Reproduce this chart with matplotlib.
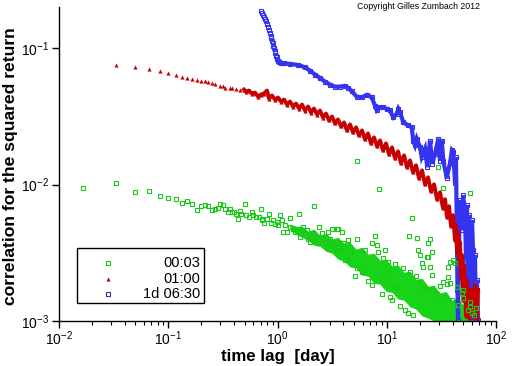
import matplotlib
matplotlib.use('Agg')
import matplotlib.pyplot as plt
from matplotlib.patches import Rectangle
from matplotlib.ticker import LogLocator, NullLocator

plt.rcParams['font.family'] = ['Liberation Sans', 'DejaVu Sans']
plt.rcParams['mathtext.fontset'] = 'custom'
plt.rcParams['mathtext.rm'] = 'Liberation Sans'
plt.rcParams['mathtext.it'] = 'Liberation Sans:italic'
plt.rcParams['mathtext.bf'] = 'Liberation Sans:bold'

# ---- data (lag in days, correlation of squared returns) ----
series_names = ['00:03', '01:00', '1d 06:30']

# 00:03 - individual points
green_lag = [0.0167, 0.0333, 0.05, 0.0667, 0.0833, 0.1, 0.1167, 0.1333, 0.15, 0.1667, 0.1833, 0.2, 0.2167, 0.2333,
             0.25, 0.2667, 0.2833, 0.3, 0.3167, 0.3333, 0.35, 0.3667, 0.3833, 0.4, 0.4167, 0.4333, 0.45, 0.4667,
             0.5, 0.5167, 0.55, 0.5833, 0.6, 0.6333, 0.6833, 0.7167, 0.706, 0.718,
             0.752, 0.797, 0.841, 0.867, 0.904, 0.949, 0.983, 1.017, 1.054, 1.092, 1.130, 1.171, 1.230, 1.301,
             1.301, 1.379, 1.446, 1.583, 1.607, 1.666, 1.722, 1.785, 1.850, 1.914, 1.984, 2.056, 2.126, 2.171,
             2.204, 2.285, 2.363, 2.413, 2.538, 2.625, 2.721, 2.821, 2.917, 3.024, 3.135, 3.241, 3.483, 3.483,
             3.600, 3.733, 3.869, 4.002, 4.148, 4.301, 4.447, 4.609,
             3.135, 3.600, 4.148, 5.31, 5.31, 5.376, 7.282, 7.807, 8.09, 8.55, 8.99, 8.99, 9.64, 10.71, 12.34,
             15.74, 16.08, 16.92, 19.11, 19.44, 20.15, 20.9, 21.6, 23.7, 24.0, 24.88, 24.88, 25.79, 25.79,
             29.64, 32.5, 32.9, 35.4, 36.6, 36.6, 37.9, 40.65, 42.15, 43.7, 48.5, 57.8,
             5.12, 5.936, 6.323, 6.736, 7.33, 8.32, 9.241, 10.27, 11.17, 11.90, 13.22, 14.09, 14.70, 16.32,
             17.39, 18.52, 20.15, 22.39, 26.5, 28.84, 30.72, 33.4, 39.6, 44.89, 49.87, 55.4, 57.8, 62.9, 65.6,
             23.2, 37.9, 50.2, 57.8, 59.9]
green_corr = [0.0095, 0.0102, 0.00887, 0.0090, 0.0083, 0.0080, 0.00787, 0.00738, 0.00762, 0.00724, 0.00656,
              0.00702, 0.00713, 0.00702,
              0.00648, 0.00667, 0.00678, 0.00725, 0.00705, 0.00667, 0.00630, 0.00667, 0.00624, 0.00630, 0.00613,
              0.00555, 0.00637, 0.00613, 0.00725, 0.00596, 0.00579, 0.00630, 0.00603, 0.00579, 0.00579, 0.00555,
              0.00667, 0.00548,
              0.00523, 0.00555, 0.00613, 0.00523, 0.00548, 0.00518, 0.00533, 0.00503, 0.00603, 0.00548, 0.00450,
              0.00503, 0.00450, 0.00573, 0.00489, 0.00476, 0.00450, 0.00613, 0.00413, 0.00463, 0.00489, 0.00438,
              0.00463, 0.00402, 0.00380, 0.00425, 0.00438, 0.00693, 0.00391, 0.00413, 0.00370, 0.00489, 0.00438,
              0.00402, 0.00370, 0.00349, 0.00450, 0.00402, 0.00359, 0.00330, 0.00476, 0.00380, 0.00349, 0.00321,
              0.00450, 0.00370, 0.00340, 0.00287, 0.00391, 0.00321,
              0.00476, 0.00469, 0.00279, 0.00396, 0.00243, 0.0150, 0.00370, 0.00418, 0.00363, 0.00933, 0.00199,
              0.00157, 0.00330, 0.00151, 0.00178, 0.00114, 0.00421, 0.00564, 0.00408, 0.00330, 0.00304, 0.00264,
              0.00250, 0.00292, 0.00376, 0.00396, 0.00250, 0.00321, 0.00217, 0.01336, 0.00947, 0.00193, 0.00188,
              0.00250, 0.00211, 0.00270, 0.00279, 0.00264, 0.00178, 0.00160, 0.0087,
              0.00213, 0.00228, 0.00330, 0.00196, 0.00183, 0.00319, 0.00289, 0.00270, 0.00142, 0.00261, 0.00129,
              0.00244, 0.00120, 0.00228, 0.00111, 0.00213, 0.00189, 0.00174, 0.00168, 0.00158, 0.00180, 0.00149,
              0.00142, 0.00131, 0.00147, 0.00120, 0.00137, 0.00111, 0.00124,
              0.00295, 0.00189, 0.00168, 0.00127, 0.00114]

# 00:03 - the solid core of the cloud (upper / lower edge)
green_core_lag = [1.301, 1.477, 1.676, 1.902, 2.158, 2.449, 2.779, 3.154, 3.579, 4.062, 4.609, 5.231, 5.936,
                  6.736, 7.644, 8.675, 9.843, 11.17, 12.68, 14.39, 16.32, 18.52, 21.02, 23.86, 27.07, 30.72,
                  34.87, 39.5, 44.89, 50.94, 57.8, 65.6]
green_core_hi = [0.00512, 0.00495, 0.00495, 0.00455, 0.00471, 0.00425, 0.00440, 0.00398, 0.00411, 0.00372,
                 0.00378, 0.00336, 0.00347, 0.00309, 0.00314, 0.00279, 0.00284, 0.00253, 0.00257, 0.00228,
                 0.00232, 0.00202, 0.00206, 0.00180, 0.00183, 0.00160, 0.00165, 0.00142, 0.00147, 0.00129,
                 0.00133, 0.00115]
green_core_lo = [0.00471, 0.00432, 0.00411, 0.00391, 0.00359, 0.00353, 0.00324, 0.00314, 0.00284, 0.00274,
                 0.00249, 0.00244, 0.00217, 0.00213, 0.00189, 0.00186, 0.00165, 0.00162, 0.00145, 0.00142,
                 0.00127, 0.00122, 0.00109, 0.00105, 0.001, 0.001, 0.001, 0.001, 0.001, 0.001, 0.001, 0.001]

# 01:00
red_lag = [0.0333, 0.05, 0.0667, 0.0833, 0.1, 0.1167, 0.1333, 0.15, 0.1667, 0.1833, 0.2, 0.2167, 0.2333, 0.25,
           0.2667, 0.3, 0.3167, 0.3333, 0.3667, 0.3833, 0.4167, 0.45,
           0.4935, 0.5148, 0.5483, 0.5843, 0.6223, 0.6631, 0.7063, 0.7522, 0.8015, 0.8360, 0.8907, 0.9486,
           1.011, 1.076, 1.147, 1.222, 1.301, 1.387, 1.477, 1.573, 1.676, 1.785, 1.902, 2.026, 2.158, 2.299,
           2.449, 2.609, 2.779, 2.961, 3.154, 3.360, 3.579, 3.813, 4.062, 4.327, 4.609, 4.910, 5.231, 5.572,
           5.936, 6.323, 6.736, 7.176, 7.644, 8.143, 8.675, 9.241, 9.843, 10.49, 11.17, 11.90, 12.68, 13.50,
           14.39, 15.32, 16.32, 17.39, 18.52, 19.73, 21.02, 22.39, 23.86, 25.41, 27.07, 28.84, 30.72, 32.73,
           34.14, 35.61, 37.14, 38.74, 40.41, 42.15, 43.05, 43.95, 44.89, 45.85, 46.83, 47.82, 48.84, 49.87,
           50.94, 53.13, 54.27, 56.61, 59.05, 61.59, 64.24, 67.01, 68.44]
red_corr = [0.0752, 0.0728, 0.0698, 0.0680, 0.0658, 0.0636, 0.0615, 0.0604, 0.0594, 0.0585, 0.0578, 0.0571,
            0.0561, 0.0556, 0.0543, 0.0528, 0.0528, 0.0511, 0.0511, 0.0511, 0.0505, 0.0494,
            0.04965, 0.04802, 0.04883, 0.04642, 0.04721, 0.04412, 0.04565, 0.04642, 0.04883, 0.04267, 0.04487,
            0.04196, 0.04339, 0.04057, 0.04196, 0.03857, 0.04057, 0.03730, 0.03923, 0.03606, 0.03857, 0.03487,
            0.03730, 0.03372, 0.03606, 0.03260, 0.03487, 0.03099, 0.03315, 0.02947, 0.03152, 0.02802, 0.02997,
            0.02664, 0.02849, 0.02490, 0.02755, 0.02407, 0.02619, 0.02289, 0.02490, 0.02140, 0.02367, 0.02000,
            0.02213, 0.01902, 0.02104, 0.01778, 0.02000, 0.01663, 0.01870, 0.01554, 0.01748, 0.01429, 0.01635,
            0.01336, 0.01503, 0.01228, 0.01382, 0.01110, 0.01270, 0.01003, 0.01129, 0.00892, 0.01003, 0.00780,
            0.00877, 0.00670, 0.00780, 0.00576, 0.00693, 0.00495, 0.00596, 0.00391, 0.00512, 0.00319, 0.00447,
            0.00270, 0.00378, 0.00206, 0.00304, 0.00142, 0.00257, 0.00109, 0.00199, 0.00105, 0.00169, 0.00109,
            0.00183, 0.00105, 0.00169]

# 1d 06:30
blue_lag = [0.711, 0.726, 0.741, 0.757, 0.773, 0.790, 0.807, 0.824, 0.841, 0.854, 0.866, 0.878, 0.891, 0.904,
            0.916, 0.929, 0.943, 0.955, 0.969, 0.984, 0.996, 1.017, 1.038, 1.069, 1.099, 1.147,
            1.302, 1.550, 1.786, 1.983, 2.204, 2.449, 2.721, 3.024, 3.360, 3.733, 4.148, 4.446, 4.777, 5.306,
            5.896, 6.551, 7.279, 7.802, 8.088, 8.669, 9.290, 9.96, 10.7, 11.47, 12.33, 12.76, 13.22, 14.18,
            15.75, 16.90, 17.49, 18.14, 18.80, 20.15, 20.89, 22.39, 23.50, 24.88, 26.12, 27.66, 29.65, 30.7,
            31.84, 32.95, 35.4, 37.9, 39.5, 40.6, 42.2, 43.0, 43.9, 44.4, 44.9, 45.8, 46.8, 48.8, 49.9, 52.0,
            53.1, 54.3, 55.4, 56.6, 57.8, 59.1, 60.3, 61.6, 62.9, 64.2, 65.6, 67.0, 68.4]
blue_corr = [0.187, 0.1815, 0.1755, 0.1688, 0.163, 0.1567, 0.150, 0.1433, 0.1356, 0.1296, 0.1233, 0.1185,
             0.1132, 0.1082, 0.1042, 0.0995, 0.0957, 0.0915, 0.0880, 0.0855, 0.0832, 0.0809, 0.0796, 0.0782,
             0.0778, 0.0773,
             0.0765, 0.0752, 0.0722, 0.0684, 0.0639, 0.0604, 0.0568, 0.0540, 0.0522, 0.0522, 0.0528, 0.0511,
             0.0482, 0.0441, 0.0436, 0.0454, 0.0436, 0.0379, 0.0349, 0.0369, 0.0369, 0.0359, 0.0349, 0.0311,
             0.0330, 0.0359, 0.0339, 0.0286, 0.0271, 0.0263, 0.0210, 0.0194, 0.0217, 0.0188, 0.0159, 0.0183,
             0.0134, 0.0210, 0.0142, 0.0168, 0.0217, 0.0150, 0.0210, 0.0150, 0.0111, 0.0143, 0.0178, 0.0173,
             0.0102, 0.0158, 0.00391, 0.00168, 0.00102, 0.00330, 0.00767, 0.00463, 0.00834, 0.00648, 0.00279,
             0.00705, 0.00142, 0.00596, 0.00425, 0.00102, 0.00548, 0.00330, 0.00120, 0.00304, 0.00102, 0.00199,
             0.00102]

green_col = '#19c819'
red_col = '#c80000'
blue_col = '#3434f0'

fig = plt.figure(figsize=(5.12, 3.66), dpi=100)
ax = fig.add_axes([59 / 512, 45 / 366, 437 / 512, 314 / 366])

# green core band first, underneath everything
ax.fill_between(green_core_lag, green_core_lo, green_core_hi, color='#18d418', lw=0, zorder=1)

# blue: markers everywhere, connected line where points are dense
blue_dense = [i for i, v in enumerate(blue_lag) if v >= 1.03]
ax.plot([blue_lag[i] for i in blue_dense], [blue_corr[i] for i in blue_dense],
        color=blue_col, lw=3.0, solid_joinstyle='miter', zorder=2)
ax.plot(blue_lag, blue_corr, ls='none', marker='s', ms=2.6, mfc='none', mec=blue_col, mew=0.8, zorder=2)

# red
red_dense = [i for i, v in enumerate(red_lag) if v >= 0.49]
ax.plot([red_lag[i] for i in red_dense], [red_corr[i] for i in red_dense],
        color=red_col, lw=2.8, zorder=3)
ax.plot(red_lag, red_corr, ls='none', marker='^', ms=3.0, color=red_col, mew=0, zorder=3)

# green scattered points
ax.plot(green_lag, green_corr, ls='none', marker='s', ms=2.6, mfc='none', mec=green_col, mew=0.8, zorder=4)

ax.set_xscale('log')
ax.set_yscale('log')
ax.set_xlim(1e-2, 1e2)
ax.set_ylim(1e-3, 0.2)

ax.xaxis.set_major_locator(LogLocator(base=10, numticks=10))
ax.xaxis.set_minor_locator(LogLocator(base=10, subs=range(2, 10), numticks=20))
ax.yaxis.set_major_locator(LogLocator(base=10, numticks=10))
ax.yaxis.set_minor_locator(NullLocator())

for side in ['top', 'right']:
    ax.spines[side].set_visible(False)
for side in ['left', 'bottom']:
    ax.spines[side].set_linewidth(1.0)

ax.tick_params(which='major', direction='out', length=5, width=1, labelsize=10, pad=2)
ax.tick_params(axis='x', which='major', pad=1)
ax.tick_params(which='minor', direction='out', length=3, width=0.8)

ax.set_xlabel('time lag  [day]', fontsize=12.2, fontweight='bold')
ax.xaxis.set_label_coords(0.5, -0.088)
ax.xaxis.label.set_va('top')
ax.set_ylabel('correlation for the squared return', fontsize=12.6, fontweight='bold')
ax.yaxis.set_label_coords(-0.094, 0.494)

# legend box, markers left, labels right aligned
ax.add_patch(Rectangle((0.0412, 0.0573), 0.2906, 0.1752, transform=ax.transAxes,
                       fill=True, fc='white', ec='black', lw=1, zorder=10))
legend_rows = [0.1847, 0.1338, 0.0860]
legend_style = [dict(marker='s', mfc='none', mec=green_col, mew=0.8, ms=2.6),
                dict(marker='^', color=red_col, mew=0, ms=3.0),
                dict(marker='s', mfc='none', mec='#3030a0', mew=0.8, ms=2.6)]
for name, yy, st in zip(series_names, legend_rows, legend_style):
    ax.plot([0.1121], [yy], ls='none', transform=ax.transAxes, zorder=11, clip_on=False, **st)
    ax.text(0.3227, yy, name, transform=ax.transAxes, ha='right', va='center', fontsize=10.5, zorder=11)

fig.text(0.938, 0.995, 'Copyright Gilles Zumbach 2012', ha='right', va='top', fontsize=6.3)

fig.savefig('out.png', dpi=100)
